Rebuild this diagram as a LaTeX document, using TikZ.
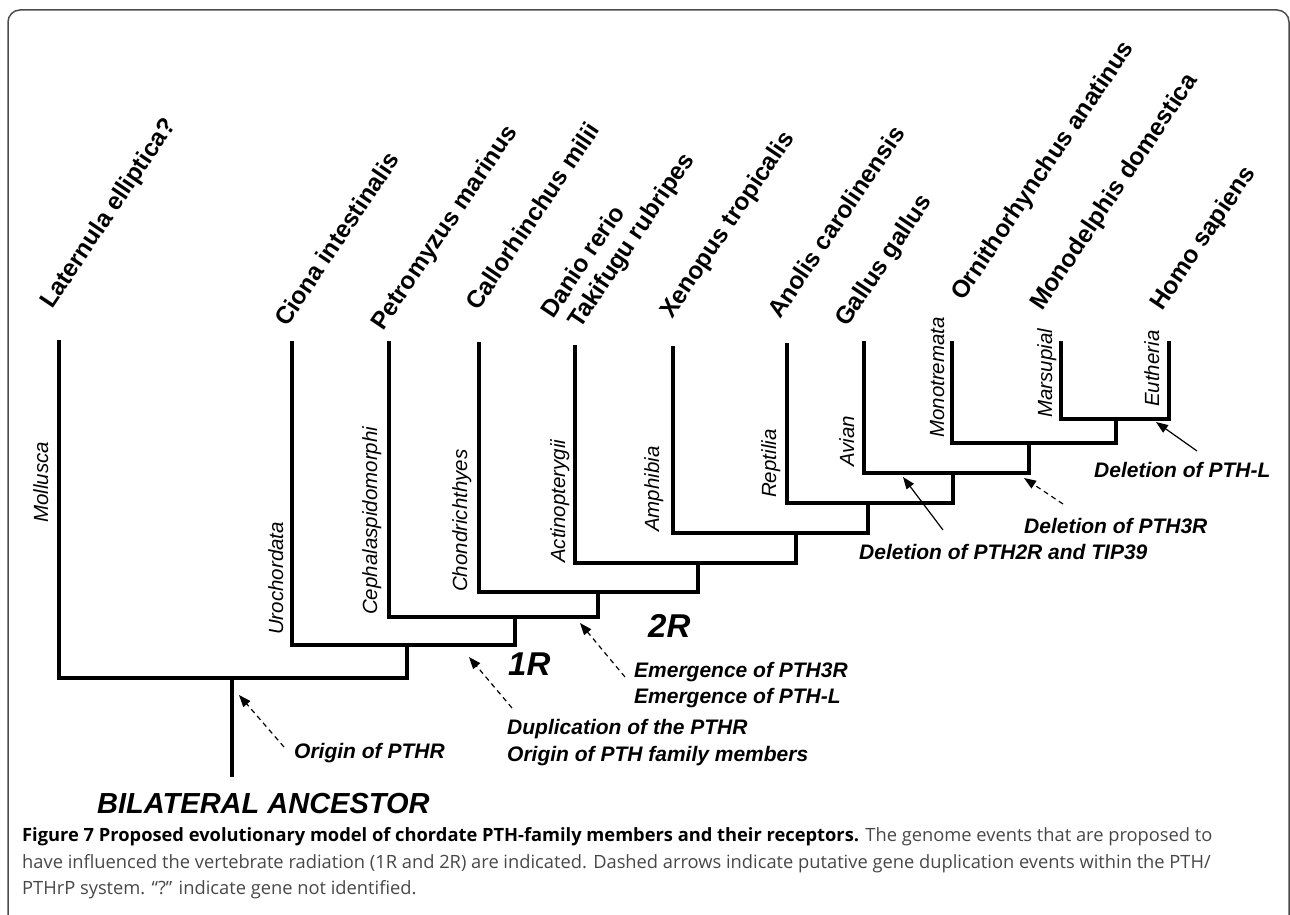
\documentclass[tikz,border=0pt]{standalone}
\usepackage{fontspec}
\setmainfont{Liberation Sans}
\newfontfamily\capfont{Open Sans}
\usetikzlibrary{arrows.meta}
\begin{document}
\begin{tikzpicture}[x=1pt,y=-1pt,
 br/.style={line width=4.5pt, line cap=rect, line join=miter},
 sp/.style={font=\fontsize{24.5}{29}\selectfont\bfseries, rotate=56, anchor=base west, inner sep=0pt},
 grp/.style={font=\fontsize{20.5}{24}\selectfont\itshape, rotate=90, anchor=base west, inner sep=0pt},
 ev/.style={font=\fontsize{21}{26}\selectfont\bfseries\itshape, anchor=base west, inner sep=0pt},
 rr/.style={font=\fontsize{33}{38}\selectfont\bfseries\itshape, anchor=base west, inner sep=0pt},
 captext/.style={font=\capfont\fontsize{18.3}{27}\selectfont, anchor=base west, inner sep=0pt, text=black!72},
 darrow/.style={-{Triangle[length=12pt,width=9pt]}, line width=1.2pt, dash pattern=on 5pt off 4pt},
 sarrow/.style={-{Triangle[length=12pt,width=9pt]}, line width=1.2pt},
]
\useasboundingbox (0,0) rectangle (1290,915);
\draw[line width=1.5pt, draw=black!70, rounded corners=12pt] (8,10) rectangle (1289,960);

% species labels
\node[sp] (laternula) at (52,310) {Laternula elliptica?};
\node[sp] (ciona) at (287,328) {Ciona intestinalis};
\node[sp] (petro) at (383,332) {Petromyzus marinus};
\node[sp] (callo) at (478,312) {Callorhinchus milii};
\node[sp] (danio) at (553,320) {Danio rerio};
\node[sp] (taki) at (580,330) {Takifugu rubripes};
\node[sp] (xeno) at (672,320) {Xenopus tropicalis};
\node[sp] (anolis) at (780,320) {Anolis carolinensis};
\node[sp] (gallus) at (847,328) {Gallus gallus};
\node[sp] (ornitho) at (963,302) {Ornithorhynchus anatinus};
\node[sp] (mono) at (1042,312) {Monodelphis domestica};
\node[sp] (homo) at (1162,312) {Homo sapiens};

% leaves
\coordinate (L1) at (59,342);
\coordinate (L2) at (292,343);
\coordinate (L3) at (389,343);
\coordinate (L4) at (479,344);
\coordinate (L5) at (575,347);
\coordinate (L6) at (673,348);
\coordinate (L7) at (787,345);
\coordinate (L8) at (864,343);
\coordinate (L9) at (952,343);
\coordinate (L10) at (1061,343);
\coordinate (L11) at (1169,343);
% stems (top t, bottom b)
\coordinate (j0t) at (1116,419); \coordinate (j0b) at (1116,443);
\coordinate (j1t) at (1029,443); \coordinate (j1b) at (1029,473);
\coordinate (j2t) at (953,473);  \coordinate (j2b) at (953,503);
\coordinate (j3t) at (868,503);  \coordinate (j3b) at (868,533);
\coordinate (j4t) at (796,533);  \coordinate (j4b) at (796,563);
\coordinate (j5t) at (698,563);  \coordinate (j5b) at (698,592);
\coordinate (j6t) at (598,592);  \coordinate (j6b) at (598,617);
\coordinate (j7t) at (515,617);  \coordinate (j7b) at (515,645);
\coordinate (j8t) at (407,645);  \coordinate (j8b) at (407,678);
\coordinate (j9t) at (232,678);  \coordinate (root) at (232,775);

\draw[br] (L10) |- (j0t) -| (L11);
\draw[br] (j0t) -- (j0b);
\draw[br] (L9) |- (j0b);
\draw[br] (j1t) -- (j1b);
\draw[br] (L8) |- (j1b);
\draw[br] (j2t) -- (j2b);
\draw[br] (L7) |- (j2b);
\draw[br] (j3t) -- (j3b);
\draw[br] (L6) |- (j3b);
\draw[br] (j4t) -- (j4b);
\draw[br] (L5) |- (j4b);
\draw[br] (j5t) -- (j5b);
\draw[br] (L4) |- (j5b);
\draw[br] (j6t) -- (j6b);
\draw[br] (L3) |- (j6b);
\draw[br] (j7t) -- (j7b);
\draw[br] (L2) |- (j7b);
\draw[br] (j8t) -- (j8b);
\draw[br] (L1) |- (j8b);
\draw[br] (j9t) -- (root);

% group labels
\node[grp] (g1) at (48,523) {Mollusca};
\node[grp] (g2) at (283,635) {Urochordata};
\node[grp] (g3) at (377,615) {Cephalaspidomorphi};
\node[grp] (g4) at (467,592) {Chondrichthyes};
\node[grp] (g5) at (565,563) {Actinopterygii};
\node[grp] (g6) at (659,532) {Amphibia};
\node[grp] (g7) at (776,498) {Reptilia};
\node[grp] (g8) at (854,467) {Avian};
\node[grp] (g9) at (944,438) {Monotremata};
\node[grp] (g10) at (1052,418) {Marsupial};
\node[grp] (g11) at (1159,407) {Eutheria};

% events
\node[rr] (r1) at (508,675) {1R};
\node[rr] (r2) at (648,637) {2R};
\node[ev] (e1) at (294,758) {Origin of PTHR};
\node[ev] (e2a) at (507,734) {Duplication of the PTHR};
\node[ev] (e2b) at (507,761) {Origin of PTH family members};
\node[ev] (e3a) at (634,677) {Emergence of PTH3R};
\node[ev] (e3b) at (634,703) {Emergence of PTH-L};
\node[ev] (e4) at (859,559) {Deletion of PTH2R and TIP39};
\node[ev] (e5) at (1024,533) {Deletion of PTH3R};
\node[ev] (e6) at (1094,477) {Deletion of PTH-L};
\node[font=\fontsize{29}{34}\selectfont\bfseries\itshape, anchor=base west, inner sep=0pt] (bil) at (97,813) {BILATERAL ANCESTOR};

% arrows
\coordinate (a1t) at (284,747); \coordinate (a1h) at (239,695);
\coordinate (a2t) at (512,708); \coordinate (a2h) at (469,657);
\coordinate (a3t) at (625,677); \coordinate (a3h) at (580,623);
\coordinate (a4t) at (943,530); \coordinate (a4h) at (903,477);
\coordinate (a5t) at (1063,504); \coordinate (a5h) at (1024,478);
\coordinate (a6t) at (1197,451); \coordinate (a6h) at (1156,422);
\draw[darrow] (a1t) -- (a1h);
\draw[darrow] (a2t) -- (a2h);
\draw[darrow] (a3t) -- (a3h);
\draw[sarrow] (a4t) -- (a4h);
\draw[darrow] (a5t) -- (a5h);
\draw[sarrow] (a6t) -- (a6h);

% caption
\node[captext] (c1) at (22,841) {\textcolor{black}{\bfseries Figure 7 Proposed evolutionary model of chordate PTH-family members and their receptors.} The genome events that are proposed to};
\node[captext] (c2) at (22,868) {have influenced the vertebrate radiation (1R and 2R) are indicated. Dashed arrows indicate putative gene duplication events within the PTH/};
\node[captext] (c3) at (22,894) {PTHrP system. “?” indicate gene not identified.};
\end{tikzpicture}
\end{document}
